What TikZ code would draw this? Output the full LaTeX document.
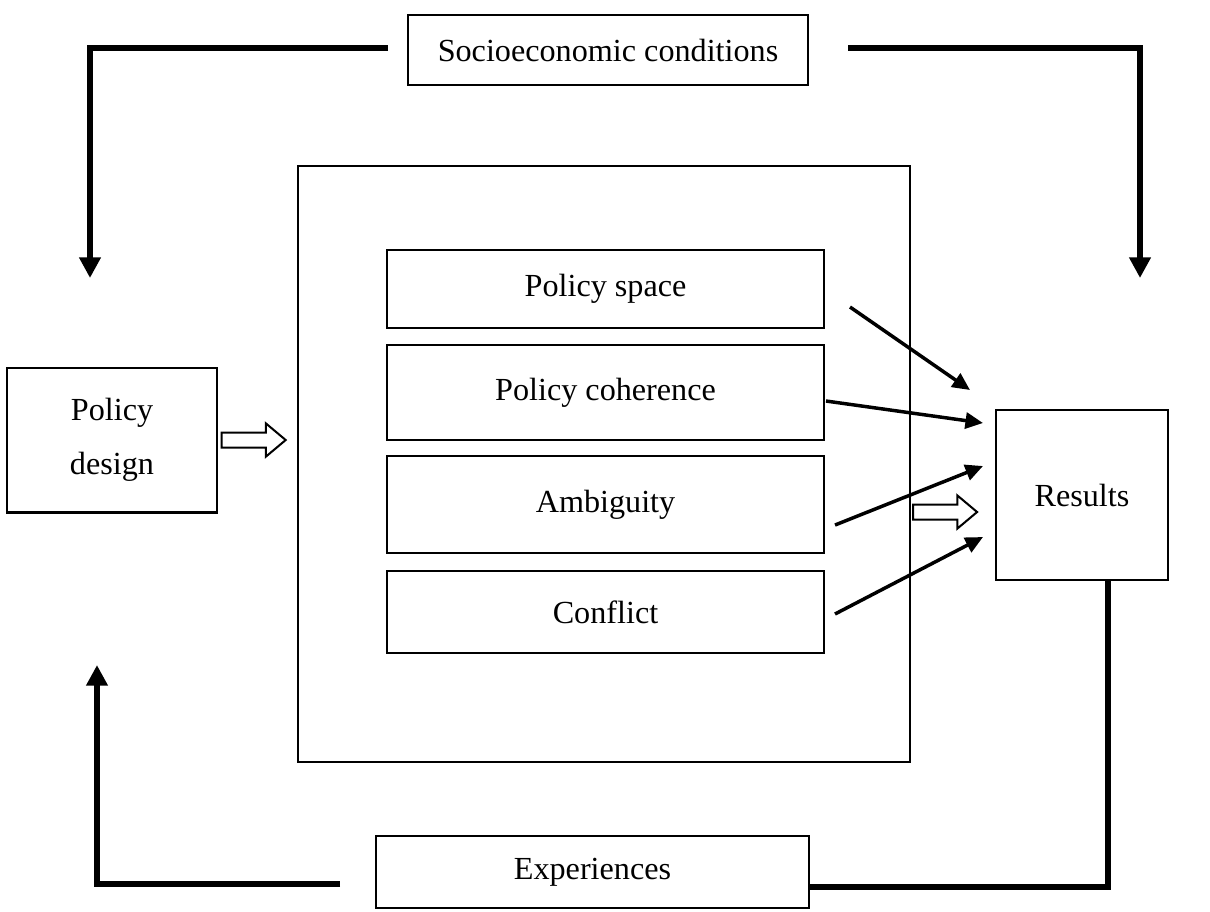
\documentclass[tikz,border=0pt]{standalone}
\usepackage{fontspec}
\setmainfont{Liberation Serif}
\usetikzlibrary{arrows.meta,positioning,shapes.arrows}

\begin{document}
\begin{tikzpicture}[x=0.0131cm,y=-0.0131cm,font=\fontsize{12}{20}\selectfont,
  box/.style={draw,line width=0.75pt,align=center,inner sep=2pt},
  inbox/.style={box,minimum width=5.72cm},
  loopline/.style={line width=2.2pt},
  flow/.style={loopline,-{Triangle[length=0.27cm,width=0.27cm]}},
  feed/.style={line width=1.3pt,-{Triangle[length=0.23cm,width=0.21cm]}},
  hollow/.style={draw,line width=0.75pt,single arrow,single arrow head extend=0.12cm,
    single arrow tip angle=80,inner xsep=0pt,inner ysep=0.085cm,minimum height=0.84cm}]
\useasboundingbox (0,0) rectangle (1210,911);

\node[box,minimum width=5.24cm,minimum height=0.93cm] (soc) at (608,50) {Socioeconomic conditions};
\node[box,minimum width=8.02cm,minimum height=7.81cm] (frame) at (604,464) {};
\node[inbox,minimum height=1.02cm] (space) at (605.5,289) {Policy space};
\node[inbox,minimum height=1.24cm,below=0.2cm of space] (coher) {Policy coherence};
\node[inbox,minimum height=1.27cm,below=0.19cm of coher] (ambig) {Ambiguity};
\node[inbox,minimum height=1.07cm,below=0.21cm of ambig] (confl) {Conflict};
\node[box,minimum width=2.75cm,minimum height=1.9cm] (design) at (112,440) {Policy\\design};
\node[box,minimum width=2.25cm,minimum height=2.23cm] (results) at (1082,495) {Results};
\node[box,minimum width=5.67cm,minimum height=0.94cm] (exper) at (592.5,872) {Experiences};

% hollow arrows in and out of the frame
\node[hollow,anchor=tail] (into) at ([xshift=1pt]design.east) {};
\node[hollow,anchor=tail] (outof) at (912,512) {};

% feedback loop
\coordinate (socL) at (388,48);
\coordinate (socR) at (848,48);
\coordinate (tipL) at (90,278);
\coordinate (tipR) at (1140,278);
\coordinate (expL) at (340,884);
\coordinate (tipB) at (97,665);
\coordinate (rb) at (1108,887);
\draw[flow] (socL) -| (tipL);
\draw[flow] (socR) -| (tipR);
\draw[flow] (expL) -| (tipB);
\draw[loopline] (results.south -| rb) |- (exper.east |- rb);

% factors to results
\coordinate (f1) at (850,307);  \coordinate (r1) at (970,390);
\coordinate (f2) at (826,401);  \coordinate (r2) at (983,423);
\coordinate (f3) at (835,525);  \coordinate (r3) at (983,466);
\coordinate (f4) at (835,614);  \coordinate (r4) at (983,537);
\draw[feed] (f1) -- (r1);
\draw[feed] (f2) -- (r2);
\draw[feed] (f3) -- (r3);
\draw[feed] (f4) -- (r4);
\end{tikzpicture}
\end{document}
